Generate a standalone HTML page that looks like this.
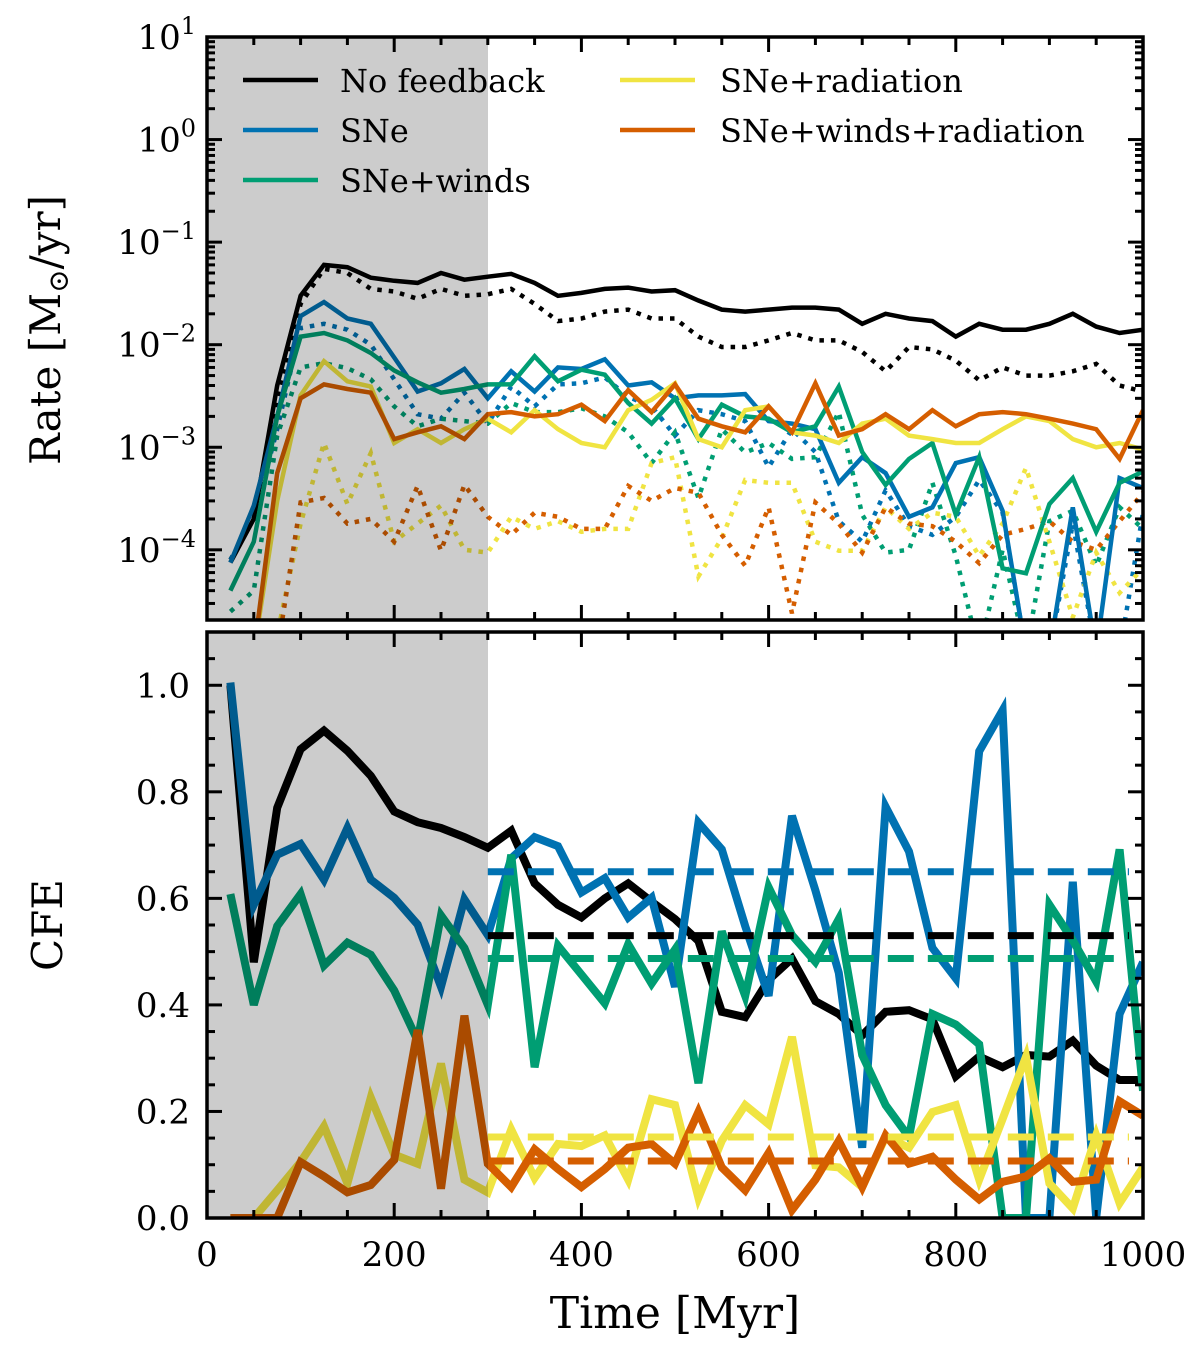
<!DOCTYPE html>
<html><head><meta charset="utf-8"><style>
body{margin:0;background:#fff;}
svg{display:block;font-family:"DejaVu Serif","Liberation Serif",serif;}
</style></head><body>
<svg id="chart" width="1200" height="1351" viewBox="0 0 1200 1351" xmlns="http://www.w3.org/2000/svg">
<defs>
<clipPath id="clipTop"><rect x="207" y="37" width="936" height="583"/></clipPath>
<clipPath id="clipBot"><rect x="207" y="632" width="936" height="586"/></clipPath>
</defs>
<g id="topLines" clip-path="url(#clipTop)"></g>
<g id="botLines" clip-path="url(#clipBot)"></g>
<rect x="207" y="37" width="281" height="583" fill="#000" fill-opacity="0.2"/>
<rect x="207" y="632" width="281" height="586" fill="#000" fill-opacity="0.2"/>
<g id="axes"></g>
<g font-size="32" fill="#000">
<line x1="243" y1="80" x2="318" y2="80" stroke="#000" stroke-width="4.5"/><text x="340" y="92">No feedback</text>
<line x1="243" y1="130" x2="318" y2="130" stroke="#0072B2" stroke-width="4.5"/><text x="340" y="142">SNe</text>
<line x1="243" y1="180" x2="318" y2="180" stroke="#009E73" stroke-width="4.5"/><text x="340" y="192">SNe+winds</text>
<line x1="620" y1="80" x2="695" y2="80" stroke="#F0E442" stroke-width="4.5"/><text x="720" y="92">SNe+radiation</text>
<line x1="620" y1="130" x2="695" y2="130" stroke="#D55E00" stroke-width="4.5"/><text x="720" y="142">SNe+winds+radiation</text>
</g>
<text transform="translate(60,330) rotate(-90)" text-anchor="middle" font-size="42">Rate [M<tspan font-size="28" dy="8">⊙</tspan><tspan dy="-8">/yr]</tspan></text>
<text transform="translate(62,925) rotate(-90)" text-anchor="middle" font-size="42">CFE</text>
<text x="675" y="1328" text-anchor="middle" font-size="44">Time [Myr]</text>
</svg>
<script>
const times = [25,50,75,100,125,150,175,200,225,250,275,300,325,350,375,400,425,450,475,500,525,550,575,600,625,650,675,700,725,750,775,800,825,850,875,900,925,950,975,1000];
const rateNoFb = [7.5e-5,2e-4,4e-3,0.03,0.06,0.057,0.045,0.042,0.040,0.05,0.043,0.046,0.049,0.04,0.03,0.032,0.035,0.036,0.033,0.034,0.027,0.022,0.021,0.022,0.023,0.023,0.022,0.016,0.02,0.018,0.017,0.012,0.016,0.014,0.014,0.016,0.02,0.015,0.013,0.014];
const rateNoFbDot = [8e-5,2e-4,3e-3,0.025,0.055,0.05,0.035,0.033,0.028,0.035,0.03,0.031,0.035,0.025,0.017,0.018,0.021,0.022,0.018,0.018,0.012,0.0095,0.0095,0.011,0.013,0.011,0.011,0.0085,0.0055,0.0095,0.009,0.007,0.0045,0.006,0.005,0.005,0.0055,0.0065,0.004,0.0035];
const rateSNe = [7.5e-5,2.7e-4,2e-3,0.019,0.026,0.018,0.016,0.0075,0.0035,0.0042,0.0058,0.003,0.0055,0.0035,0.006,0.0058,0.0072,0.004,0.0043,0.003,0.0032,0.0032,0.0033,0.0018,0.0017,0.0015,4.5e-4,8e-4,5.6e-4,2.1e-4,2.6e-4,7e-4,8e-4,2.4e-4,1e-5,1e-5,2.6e-4,1e-5,5e-4,4e-4];
const rateSNeDot = [8e-5,2e-4,1.5e-3,0.0145,0.016,0.014,0.010,0.0046,0.0021,0.0019,0.0034,0.0017,0.0039,0.0025,0.0041,0.0042,0.0048,0.0031,0.0025,0.0013,0.0023,0.0021,0.0018,6.4e-4,0.0015,9e-4,1.9e-4,1.2e-4,3.8e-4,1.7e-4,1.4e-4,2.1e-4,4.8e-4,2.3e-4,1e-5,1e-5,1.8e-4,1e-5,1e-5,2.3e-4];
const rateWinds = [4e-5,1.2e-4,2e-3,0.012,0.013,0.011,0.0083,0.0056,0.0043,0.0034,0.0037,0.0041,0.0041,0.0077,0.0044,0.0057,0.0051,0.0027,0.0017,0.003,0.0012,0.0026,0.002,0.0019,0.0014,0.0016,0.0039,9e-4,4.3e-4,7.7e-4,0.0011,2.2e-4,8e-4,6.6e-5,5.9e-5,2.8e-4,5e-4,1.5e-4,4.5e-4,5.8e-4];
const rateWindsDot = [2.5e-5,4e-5,1.3e-3,0.006,0.0066,0.0059,0.0046,0.0025,0.0016,0.0019,0.0018,0.0017,0.0027,0.0022,0.0022,0.0024,0.002,0.0014,7e-4,0.0014,3.2e-4,0.0015,8.9e-4,0.0011,7.7e-4,8e-4,0.0022,2.2e-4,9.4e-5,1e-4,4.5e-4,8.7e-5,1e-5,1e-4,1e-5,1.9e-4,2.4e-4,7e-5,2.6e-4,1.6e-4];
const rateRad = [1e-5,1e-5,3e-4,3.2e-3,6.9e-3,4.4e-3,3.9e-3,1.1e-3,1.5e-3,1.1e-3,1.5e-3,1.9e-3,1.4e-3,2.3e-3,1.5e-3,1.1e-3,1.0e-3,2.3e-3,2.9e-3,4.2e-3,1.2e-3,1.0e-3,2.3e-3,2.5e-3,1.4e-3,1.3e-3,1.1e-3,1.7e-3,1.9e-3,1.3e-3,1.2e-3,1.1e-3,1.1e-3,1.5e-3,2e-3,1.8e-3,1.2e-3,1.0e-3,1.1e-3,9.5e-4];
const rateRadDot = [1e-5,1e-5,1.5e-5,1.8e-4,1.1e-3,2.8e-4,8.8e-4,1.2e-4,1.8e-4,2.7e-4,1e-4,9.4e-5,2.1e-4,1.6e-4,1.9e-4,1.5e-4,1.6e-4,1.6e-4,7e-4,8e-4,5.5e-5,1.3e-4,4.8e-4,4.5e-4,4.5e-4,1.2e-4,9.8e-5,9.8e-5,2.6e-4,1.6e-4,2.3e-4,2.1e-4,8.7e-5,1.8e-4,6.3e-4,1.2e-4,2.2e-5,9.4e-5,3.8e-5,6.6e-5];
const rateAll = [1e-5,1e-5,5.6e-4,3e-3,4.1e-3,3.7e-3,3.4e-3,1.2e-3,1.4e-3,1.6e-3,1.2e-3,2.1e-3,2.2e-3,2e-3,2.1e-3,2.6e-3,1.8e-3,3.6e-3,2.2e-3,4.1e-3,1.9e-3,1.6e-3,1.4e-3,2.5e-3,1.4e-3,4.2e-3,1.3e-3,1.5e-3,2.1e-3,1.5e-3,2.3e-3,1.6e-3,2.1e-3,2.2e-3,2.1e-3,1.9e-3,1.7e-3,1.5e-3,7.7e-4,2.3e-3];
const rateAllDot = [1e-5,1e-5,1e-5,2.9e-4,3.2e-4,1.8e-4,2e-4,1.2e-4,4.2e-4,9.8e-5,4.3e-4,2.1e-4,1.4e-4,2.3e-4,2.1e-4,1.6e-4,1.6e-4,4.2e-4,3e-4,4e-4,3.6e-4,1.4e-4,7e-5,2.6e-4,2.4e-5,2.9e-4,1.8e-4,9.4e-5,2.6e-4,1.8e-4,1.7e-4,1.2e-4,7.4e-5,1.4e-4,1.6e-4,1.9e-4,1.2e-4,1e-4,1.9e-4,3.6e-4];
const cfeNoFb = [1.0,0.48,0.77,0.88,0.915,0.877,0.83,0.763,0.743,0.732,0.715,0.695,0.727,0.628,0.588,0.564,0.60,0.628,0.594,0.561,0.52,0.387,0.377,0.447,0.487,0.407,0.383,0.343,0.387,0.39,0.373,0.266,0.303,0.283,0.306,0.303,0.333,0.286,0.259,0.259];
const cfeSNe = [1.005,0.588,0.682,0.702,0.635,0.732,0.635,0.601,0.551,0.434,0.598,0.531,0.675,0.715,0.698,0.611,0.638,0.564,0.601,0.434,0.742,0.692,0.548,0.417,0.755,0.615,0.46,0.132,0.772,0.688,0.507,0.45,0.876,0.953,0.0,0.0,0.631,0.0,0.383,0.48];
const cfeWinds = [0.608,0.40,0.548,0.608,0.474,0.517,0.494,0.427,0.333,0.568,0.507,0.40,0.682,0.283,0.511,0.457,0.403,0.514,0.44,0.504,0.253,0.538,0.417,0.621,0.531,0.481,0.561,0.306,0.212,0.152,0.383,0.363,0.326,0.0,0.0,0.588,0.521,0.444,0.692,0.239];
const cfeRad = [0,0,0.052,0.105,0.172,0.065,0.226,0.119,0.102,0.29,0.072,0.048,0.166,0.075,0.139,0.135,0.155,0.072,0.223,0.212,0.038,0.145,0.212,0.176,0.34,0.099,0.095,0.058,0.152,0.132,0.199,0.212,0.072,0.186,0.303,0.065,0.018,0.155,0.028,0.095];
const cfeAll = [0,0,0,0.105,0.078,0.048,0.062,0.109,0.353,0.055,0.38,0.102,0.058,0.129,0.092,0.058,0.092,0.132,0.139,0.102,0.199,0.095,0.052,0.122,0.015,0.072,0.145,0.058,0.155,0.102,0.115,0.072,0.035,0.068,0.078,0.112,0.068,0.072,0.219,0.192];
const cfeMeans = [0.53,0.65,0.487,0.152,0.107];
const xTicks = [0,200,400,600,800,1000];
const cfeTicks = [0.0,0.2,0.4,0.6,0.8,1.0];
const rateExps = [-4,-3,-2,-1,0,1];

const NS="http://www.w3.org/2000/svg";
const X0=207,X1=1143,TT=37,TB=620,BT=632,BB=1218;
const LOGMIN=-4.6842,LOGMAX=1,CMAX=1.1;
function xs(t){return X0+(t/1000)*(X1-X0);}
function ysTop(v){const l=Math.log10(Math.max(v,1e-7));return TB-(l-LOGMIN)/(LOGMAX-LOGMIN)*(TB-TT);}
function ysBot(v){return BB-(v/CMAX)*(BB-BT);}
function mk(tag,attrs,parent){const e=document.createElementNS(NS,tag);for(const k in attrs)e.setAttribute(k,attrs[k]);parent.appendChild(e);return e;}
const topG=document.getElementById('topLines'),botG=document.getElementById('botLines'),axG=document.getElementById('axes');
const C={k:'#000',b:'#0072B2',g:'#009E73',y:'#F0E442',o:'#D55E00'};
function series(arr,ys,g,color,w,dash,name){
  const pts=arr.map((v,i)=>xs(times[i]).toFixed(1)+','+ys(v).toFixed(1)).join(' ');
  const p=mk('polyline',{points:pts,fill:'none',stroke:color,'stroke-width':w,'stroke-linejoin':'miter'},g);
  if(dash)p.setAttribute('stroke-dasharray',dash);
  
  
}
const DOT='4.5,7';
series(rateNoFbDot,ysTop,topG,C.k,4.5,DOT,'rate-no-feedback-dotted');
series(rateSNeDot,ysTop,topG,C.b,4.5,DOT,'rate-sne-dotted');
series(rateWindsDot,ysTop,topG,C.g,4.5,DOT,'rate-sne-winds-dotted');
series(rateRadDot,ysTop,topG,C.y,4.5,DOT,'rate-sne-radiation-dotted');
series(rateAllDot,ysTop,topG,C.o,4.5,DOT,'rate-sne-winds-radiation-dotted');
series(rateNoFb,ysTop,topG,C.k,4.5,null,'rate-no-feedback');
series(rateSNe,ysTop,topG,C.b,4.5,null,'rate-sne');
series(rateWinds,ysTop,topG,C.g,4.5,null,'rate-sne-winds');
series(rateRad,ysTop,topG,C.y,4.5,null,'rate-sne-radiation');
series(rateAll,ysTop,topG,C.o,4.5,null,'rate-sne-winds-radiation');
series(cfeNoFb,ysBot,botG,C.k,8,null,'cfe-no-feedback');
series(cfeSNe,ysBot,botG,C.b,8,null,'cfe-sne');
series(cfeWinds,ysBot,botG,C.g,8,null,'cfe-sne-winds');
series(cfeRad,ysBot,botG,C.y,8,null,'cfe-sne-radiation');
series(cfeAll,ysBot,botG,C.o,8,null,'cfe-sne-winds-radiation');
const meanCols=[C.k,C.b,C.g,C.y,C.o],meanNames=['no-feedback','sne','sne-winds','sne-radiation','sne-winds-radiation'];
cfeMeans.forEach((m,i)=>{
  const l=mk('line',{x1:xs(300),x2:xs(985),y1:ysBot(m),y2:ysBot(m),stroke:meanCols[i],'stroke-width':7,'stroke-dasharray':'26,14'},botG);
  
  
});
[[TT,TB,'top'],[BT,BB,'bottom']].forEach(([a,b,n])=>{
  const r=mk('rect',{x:X0,y:a,width:X1-X0,height:b-a,fill:'none',stroke:'#000','stroke-width':3.5},axG);
  
  
});
function tick(x1,y1,x2,y2){mk('line',{x1,y1,x2,y2,stroke:'#000','stroke-width':3},axG);}
for(let t=0;t<=1000;t+=50){
  const maj=t%200===0,L=maj?15:8,x=xs(t);
  tick(x,TB,x,TB-L);tick(x,TT,x,TT+L);tick(x,BB,x,BB-L);tick(x,BT,x,BT+L);
}
xTicks.forEach(t=>{
  const e=mk('text',{x:xs(t),y:1266,'text-anchor':'middle','font-size':34},axG);e.textContent=t;
  
  
});
for(let e=-5;e<=1;e++){
  for(let m=1;m<10;m++){
    const v=m*Math.pow(10,e),l=Math.log10(v);if(l<LOGMIN-1e-9||l>LOGMAX+1e-9)continue;
    const y=ysTop(v),L=m===1?15:8;tick(X0,y,X0+L,y);tick(X1,y,X1-L,y);
  }
}
rateExps.forEach(e=>{
  const y=ysTop(Math.pow(10,e));
  const t=mk('text',{x:196,y:y+12,'text-anchor':'end','font-size':34},axG);
  
  
  t.appendChild(document.createTextNode('10'));
  const s=mk('tspan',{dy:-15,'font-size':24},t);s.textContent=(e<0?'\u2212'+(-e):String(e));
});
for(let i=0;i<=22;i++){
  const v=i*0.05,y=ysBot(v),L=i%4===0?15:8;tick(X0,y,X0+L,y);tick(X1,y,X1-L,y);
}
cfeTicks.forEach(v=>{
  const t=mk('text',{x:190,y:ysBot(v)+12,'text-anchor':'end','font-size':34},axG);t.textContent=v.toFixed(1);
  
  
});
</script>
</body></html>
